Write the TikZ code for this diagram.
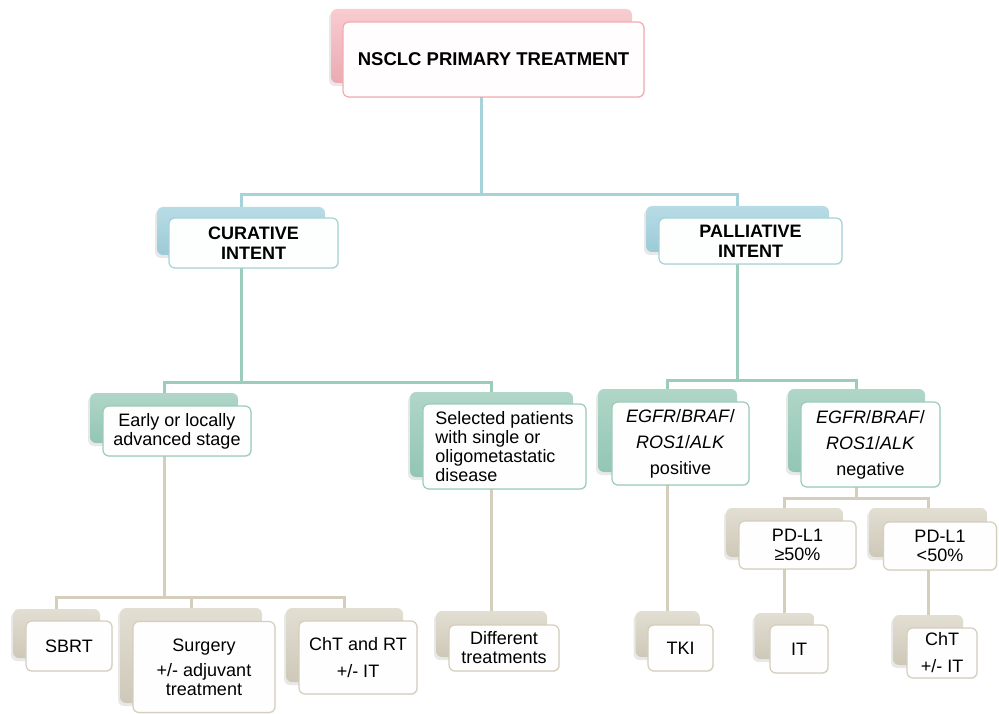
\documentclass[tikz,border=0pt]{standalone}
\usepackage{fontspec}
\setmainfont{Liberation Sans}
\usetikzlibrary{shadows, calc}

\definecolor{pinkTop}{RGB}{248,204,208}
\definecolor{pinkBot}{RGB}{236,170,178}
\definecolor{pinkLine}{RGB}{240,172,178}
\definecolor{blueTop}{RGB}{184,220,230}
\definecolor{blueBot}{RGB}{156,202,214}
\definecolor{blueLine}{RGB}{166,210,218}
\definecolor{greenTop}{RGB}{176,214,200}
\definecolor{greenBot}{RGB}{146,198,180}
\definecolor{greenLine}{RGB}{156,204,186}
\definecolor{beigeTop}{RGB}{226,222,210}
\definecolor{beigeBot}{RGB}{206,200,184}
\definecolor{beigeLine}{RGB}{214,206,188}

\begin{document}
\begin{tikzpicture}[
    x=1pt, y=-1pt,
    backbox/.style={
        rectangle,
        rounded corners=6pt,
        inner sep=0pt,
        drop shadow={shadow xshift=-2pt, shadow yshift=-3pt, opacity=0.18}
    },
    frontbox/.style={
        rectangle,
        rounded corners=6pt,
        line width=1.2pt,
        inner sep=1pt,
        align=center,
        font=\fontsize{18}{19}\selectfont,
        drop shadow={shadow xshift=1pt, shadow yshift=-1pt, opacity=0.1}
    },
    pinkback/.style={backbox, top color=pinkTop, bottom color=pinkBot},
    blueback/.style={backbox, top color=blueTop, bottom color=blueBot},
    greenback/.style={backbox, top color=greenTop, bottom color=greenBot},
    beigeback/.style={backbox, top color=beigeTop, bottom color=beigeBot},
    pinkfront/.style={frontbox, draw=pinkLine, fill=white!96!pinkTop},
    bluefront/.style={frontbox, draw=blueLine, fill=white!97!blueTop},
    greenfront/.style={frontbox, draw=greenLine, fill=white!97!greenTop},
    beigefront/.style={frontbox, draw=beigeLine, fill=white!97!beigeTop},
    bluelink/.style={draw=blueLine, line width=3pt},
    greenlink/.style={draw=greenLine, line width=3pt},
    beigelink/.style={draw=beigeLine, line width=3pt}
]

    \useasboundingbox (0,0) rectangle (999,714);

    % Bus levels of the tree
    \coordinate (busA) at (481.5,195);
    \coordinate (busB) at (241,382);
    \coordinate (busC) at (737.5,380);
    \coordinate (busD) at (856.5,498);
    \coordinate (busE) at (164,597);

    % Back boxes (connectors are hung on their centres)
    \node[pinkback, minimum width=301, minimum height=74] (rootB) at (481.5,46) {};
    \node[blueback, minimum width=168, minimum height=48] (curB) at (241,231) {};
    \node[blueback, minimum width=183, minimum height=46] (palB) at (737.5,229) {};
    \node[greenback, minimum width=148, minimum height=50] (earlyB) at (164,418) {};
    \node[greenback, minimum width=163, minimum height=85] (selB) at (491.5,434.5) {};
    \node[greenback, minimum width=139, minimum height=83] (posB) at (667.5,430.5) {};
    \node[greenback, minimum width=137, minimum height=83] (negB) at (856.5,430.5) {};
    \node[beigeback, minimum width=117, minimum height=49] (pdhiB) at (784.5,532.5) {};
    \node[beigeback, minimum width=118, minimum height=49] (pdloB) at (928,532.5) {};
    \node[beigeback, minimum width=87, minimum height=49] (sbrtB) at (56.5,633.5) {};
    \node[beigeback, minimum width=142, minimum height=95] (surgB) at (191,655.5) {};
    \node[beigeback, minimum width=117, minimum height=74] (chtrtB) at (344.5,645) {};
    \node[beigeback, minimum width=111, minimum height=46] (diffB) at (491.5,634) {};
    \node[beigeback, minimum width=64, minimum height=46] (tkiB) at (667.5,634) {};
    \node[beigeback, minimum width=60, minimum height=46] (itB) at (784.5,636) {};
    \node[beigeback, minimum width=70, minimum height=50] (chtitB) at (928,640) {};

    % Connectors
    \draw[bluelink] (rootB.south) -- (busA);
    \draw[bluelink] (busA) -| (curB.north);
    \draw[bluelink] (busA) -| (palB.north);

    \draw[greenlink] (curB.south) -- (busB);
    \draw[greenlink] (busB) -| (earlyB.north);
    \draw[greenlink] (busB) -| (selB.north);
    \draw[greenlink] (palB.south) -- (busC);
    \draw[greenlink] (busC) -| (posB.north);
    \draw[greenlink] (busC) -| (negB.north);

    \draw[beigelink] (negB.south) -- (busD);
    \draw[beigelink] (busD) -| (pdhiB.north);
    \draw[beigelink] (busD) -| (pdloB.north);
    \draw[beigelink] (earlyB.south) -- (busE);
    \draw[beigelink] (busE) -| (sbrtB.north);
    \draw[beigelink] (busE) -| (surgB.north);
    \draw[beigelink] (busE) -| (chtrtB.north);

    % single children
    \draw[beigelink] (selB.south) -- (diffB.north);
    \draw[beigelink] (posB.south) -- (tkiB.north);
    \draw[beigelink] (pdhiB.south) -- (itB.north);
    \draw[beigelink] (pdloB.south) -- (chtitB.north);

    % Front boxes
    \node[pinkfront, minimum width=301, minimum height=75,
        font=\bfseries\fontsize{18.5}{20}\selectfont] (root) at (493.5,59.5) {NSCLC PRIMARY TREATMENT};
    \node[bluefront, minimum width=169, minimum height=50,
        font=\bfseries\fontsize{18}{20}\selectfont] (cur) at (253.5,243) {CURATIVE\\INTENT};
    \node[bluefront, minimum width=183, minimum height=46,
        font=\bfseries\fontsize{18}{20}\selectfont] (pal) at (750.5,241) {PALLIATIVE\\INTENT};

    \node[greenfront, minimum width=148, minimum height=50] (early) at (177,431) {Early or locally\\advanced stage};
    \node[greenfront, minimum width=163, minimum height=85, align=left] (sel) at (504.5,446.5)
        {Selected patients\\with single or\\oligometastatic\\disease};
    \node[greenfront, minimum width=137, minimum height=83] (pos) at (680.5,443.5)
        {\textit{EGFR}/\textit{BRAF}/\\[7pt]\textit{ROS1}/\textit{ALK}\\[7pt]positive};
    \node[greenfront, minimum width=139, minimum height=85] (neg) at (870.5,444.5)
        {\textit{EGFR}/\textit{BRAF}/\\[7pt]\textit{ROS1}/\textit{ALK}\\[7pt]negative};

    \node[beigefront, minimum width=117, minimum height=48] (pdhi) at (797.5,545) {PD-L1\\≥50\%};
    \node[beigefront, minimum width=113, minimum height=48] (pdlo) at (940,546) {PD-L1\\<50\%};

    \node[beigefront, minimum width=86, minimum height=50] (sbrt) at (69,646) {SBRT};
    \node[beigefront, minimum width=142, minimum height=91] (surg) at (204,667)
        {Surgery\\[6pt]+/- adjuvant\\treatment};
    \node[beigefront, minimum width=118, minimum height=73] (chtrt) at (358,657.5)
        {ChT and RT\\[8pt]+/- IT};
    \node[beigefront, minimum width=110, minimum height=46] (diff) at (504,648) {Different\\treatments};
    \node[beigefront, minimum width=65, minimum height=46] (tki) at (680.5,648) {TKI};
    \node[beigefront, minimum width=58, minimum height=48] (it) at (799,649) {IT};
    \node[beigefront, minimum width=70, minimum height=50] (chtit) at (942,653) {ChT\\[8pt]+/- IT};

\end{tikzpicture}
\end{document}
